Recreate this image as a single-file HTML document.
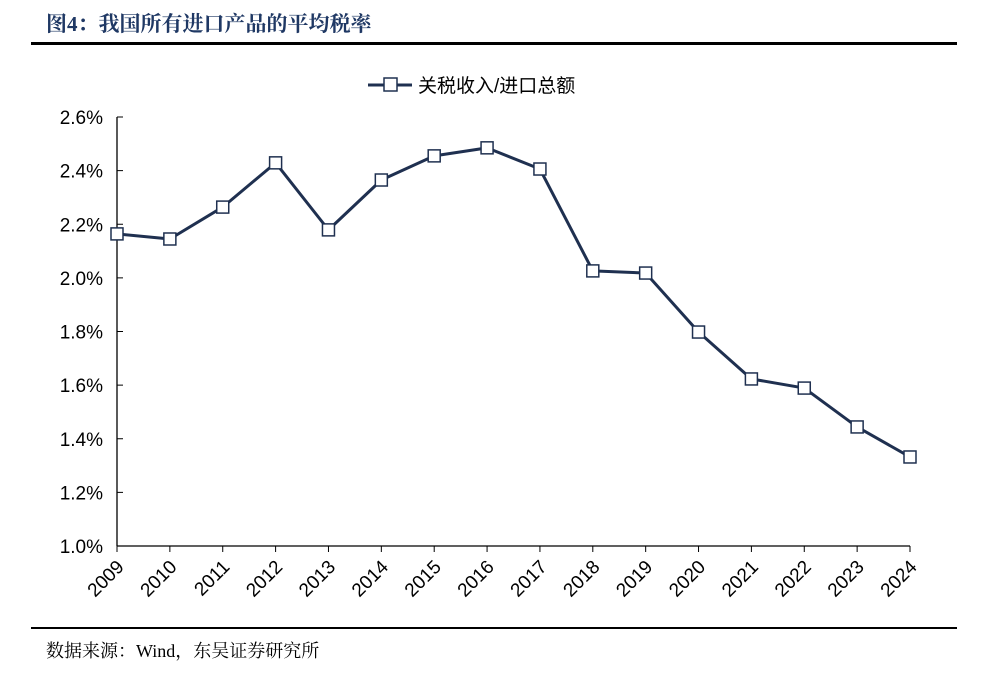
<!DOCTYPE html>
<html><head><meta charset="utf-8">
<style>
body{margin:0;background:#fff;width:985px;height:680px;overflow:hidden;font-family:"Liberation Serif","Noto Serif CJK SC",serif;}
</style></head>
<body>
<svg width="985" height="680" xmlns="http://www.w3.org/2000/svg">
<text x="46" y="31" font-size="21" font-weight="bold" fill="#1f3864" font-family="'Liberation Serif','Noto Serif CJK SC',serif">图4：我国所有进口产品的平均税率</text>
<rect x="31" y="42" width="926" height="3" fill="#000"/>
<rect x="31" y="627" width="926" height="2" fill="#000"/>
<text x="46" y="657" font-size="18" fill="#000" font-family="'Liberation Serif','Noto Serif CJK SC',serif">数据来源：Wind，东吴证券研究所</text>
<g>
<line x1="368" y1="85" x2="412" y2="85" stroke="#1f3050" stroke-width="3"/>
<rect x="384" y="78" width="13" height="13" fill="#fff" stroke="#1f3050" stroke-width="1.5"/>
<text x="418" y="92" font-size="19" fill="#000" font-family="'Liberation Sans','Noto Sans CJK SC',sans-serif">关税收入/进口总额</text>
</g>
<g id="axes"></g>
<g id="plot"></g>
</svg>
<script>
const years=["2009","2010","2011","2012","2013","2014","2015","2016","2017","2018","2019","2020","2021","2022","2023","2024"];
const values=[2.164,2.145,2.264,2.429,2.179,2.365,2.455,2.485,2.406,2.026,2.018,1.798,1.623,1.589,1.444,1.332];
const yTicks=[1.0,1.2,1.4,1.6,1.8,2.0,2.2,2.4,2.6];
const yTickLabels=["1.0%","1.2%","1.4%","1.6%","1.8%","2.0%","2.2%","2.4%","2.6%"];
const NS="http://www.w3.org/2000/svg";
const x0=117,x1=910,yb=546,yt=117,vmin=1.0,vmax=2.6;
const xs=i=>x0+(x1-x0)*i/(years.length-1);
const ys=v=>yb-(v-vmin)/(vmax-vmin)*(yb-yt);
function mk(t,a,p){const e=document.createElementNS(NS,t);for(const k in a)e.setAttribute(k,a[k]);p.appendChild(e);return e;}
const ax=document.getElementById('axes'),pl=document.getElementById('plot');
const ya=mk('line',{x1:x0,y1:yt,x2:x0,y2:yb,stroke:'#000','stroke-width':1.3},ax);


const xa=mk('line',{x1:x0,y1:yb,x2:x1,y2:yb,stroke:'#000','stroke-width':1.3},ax);


yTicks.forEach((v,i)=>{
 mk('line',{x1:x0,y1:ys(v),x2:x0+6,y2:ys(v),stroke:'#000','stroke-width':1},ax);
 const t=mk('text',{x:x0-14,y:ys(v)+7,'text-anchor':'end','font-size':19,'font-family':"'Liberation Sans',sans-serif"},ax);
 t.textContent=yTickLabels[i];
 
 
});
years.forEach((y,i)=>{
 const x=xs(i);
 mk('line',{x1:x,y1:yb,x2:x,y2:yb+6,stroke:'#000','stroke-width':1},ax);
 const t=mk('text',{x:x+8,y:yb+22,'text-anchor':'end','font-size':19,'font-family':"'Liberation Sans',sans-serif",transform:`rotate(-45 ${x+8} ${yb+22})`},ax);
 t.textContent=y;
 
 
});
const pts=values.map((v,i)=>xs(i)+','+ys(v)).join(' ');
const ln=mk('polyline',{points:pts,fill:'none',stroke:'#1f3050','stroke-width':3,'stroke-linejoin':'round'},pl);


values.forEach((v,i)=>{
 const r=mk('rect',{x:xs(i)-6,y:ys(v)-6,width:12,height:12,fill:'#fff',stroke:'#1f3050','stroke-width':1.5},pl);
 
 
});
</script>
</body></html>
